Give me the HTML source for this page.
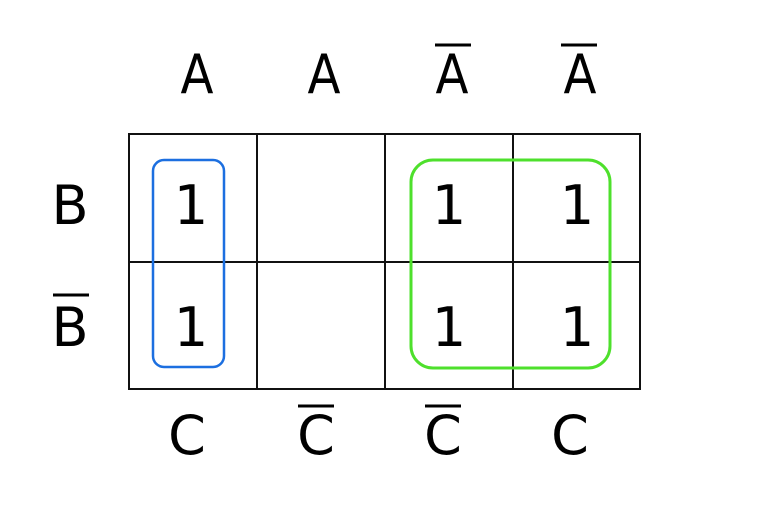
<!DOCTYPE html>
<html><head><meta charset="utf-8"><style>
html,body{margin:0;padding:0;background:#fff;width:768px;height:512px;overflow:hidden}
text{font-family:"DejaVu Sans","Liberation Sans",sans-serif;font-size:54px;fill:#000}
</style></head><body>
<svg width="768" height="512" viewBox="0 0 768 512" xmlns="http://www.w3.org/2000/svg">
<g stroke="#111" stroke-width="2" fill="none">
<rect x="129" y="134" width="511" height="255"/>
<line x1="129" y1="262" x2="640" y2="262"/>
<line x1="257" y1="134" x2="257" y2="389"/>
<line x1="385" y1="134" x2="385" y2="389"/>
<line x1="513" y1="134" x2="513" y2="389"/>
</g>
<rect x="153" y="160" width="71" height="207" rx="11" fill="none" stroke="#1c6fe0" stroke-width="2.5"/>
<rect x="411" y="160" width="199" height="208" rx="22" fill="none" stroke="#4ee02c" stroke-width="3"/>
<g text-anchor="middle">
<text x="197" y="93" textLength="33" lengthAdjust="spacingAndGlyphs">A</text>
<text x="324" y="93" textLength="33" lengthAdjust="spacingAndGlyphs">A</text>
<text x="452" y="93" textLength="33" lengthAdjust="spacingAndGlyphs">A</text>
<text x="580" y="93" textLength="33" lengthAdjust="spacingAndGlyphs">A</text>
<text x="70" y="224">B</text>
<text x="70" y="346">B</text>
<text x="191" y="224">1</text>
<text x="449" y="224">1</text>
<text x="577" y="224">1</text>
<text x="191" y="346">1</text>
<text x="449" y="346">1</text>
<text x="577" y="346">1</text>
<text x="187" y="454">C</text>
<text x="316" y="454">C</text>
<text x="443" y="454">C</text>
<text x="570" y="454">C</text>
</g>
<g stroke="#000" stroke-width="3">
<line x1="435" y1="45" x2="471" y2="45"/>
<line x1="561" y1="45" x2="597" y2="45"/>
<line x1="53" y1="295" x2="89" y2="295"/>
<line x1="298" y1="406" x2="334" y2="406"/>
<line x1="425" y1="406" x2="461" y2="406"/>
</g>
</svg>
</body></html>
